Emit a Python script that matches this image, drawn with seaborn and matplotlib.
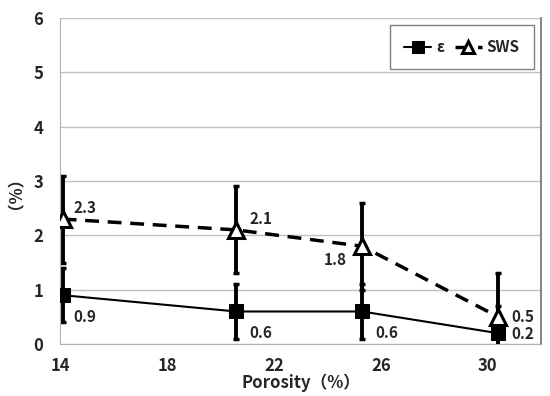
import numpy as np
import pandas as pd
import seaborn as sns
import matplotlib
matplotlib.use('Agg')
from matplotlib import pyplot as plt

# data
porosity = [14.1, 20.6, 25.3, 30.4]
eps_vals = [0.9, 0.6, 0.6, 0.2]
eps_err = [0.5, 0.5, 0.5, 0.5]
sws_vals = [2.3, 2.1, 1.8, 0.5]
sws_err = [0.8, 0.8, 0.8, 0.8]
eps_labels = ['0.9', '0.6', '0.6', '0.2']
sws_labels = ['2.3', '2.1', '1.8', '0.5']

FONTS = ['Noto Sans CJK SC', 'DejaVu Sans']

sns.set_style('white')
plt.rcParams['font.family'] = FONTS
plt.rcParams['font.weight'] = 'bold'

df = pd.DataFrame({'porosity': porosity, 'eps': eps_vals, 'sws': sws_vals})

fig = plt.figure(figsize=(5.5, 3.96), dpi=100)
ax = fig.add_axes([0.109, 0.131, 0.875, 0.824])

# error bars first so markers sit on top
ax.errorbar(porosity, sws_vals, yerr=sws_err, fmt='none', ecolor='black',
            elinewidth=2.8, capsize=2.5, capthick=2.5, zorder=2)
ax.errorbar(porosity, eps_vals, yerr=eps_err, fmt='none', ecolor='black',
            elinewidth=2.8, capsize=2.5, capthick=2.5, zorder=2)

sns.lineplot(data=df, x='porosity', y='eps', ax=ax, color='black', lw=1.5,
             marker='s', markersize=10, markerfacecolor='black',
             markeredgecolor='black', label='ε', zorder=3)
sns.lineplot(data=df, x='porosity', y='sws', ax=ax, color='black', lw=2.5,
             linestyle=(0, (4, 2.5)), marker='^', markersize=11,
             markerfacecolor='white', markeredgecolor='black',
             markeredgewidth=2.2, label='SWS', zorder=4)

# value labels
txt = dict(fontsize=11, fontweight='bold', fontfamily=FONTS)
sws_off = [(0.4, 0.2), (0.5, 0.2), (-1.45, -0.25), (0.5, 0.0)]
eps_off = [(0.4, -0.4), (0.5, -0.4), (0.5, -0.4), (0.5, -0.02)]
for x, y, s, (dx, dy) in zip(porosity, sws_vals, sws_labels, sws_off):
    ax.text(x + dx, y + dy, s, va='center', ha='left', **txt)
for x, y, s, (dx, dy) in zip(porosity, eps_vals, eps_labels, eps_off):
    ax.text(x + dx, y + dy, s, va='center', ha='left', **txt)

ax.set_xlim(14, 32)
ax.set_ylim(0, 6)
ax.set_xticks([14, 18, 22, 26, 30])
ax.set_yticks(range(0, 7))
ax.yaxis.grid(True, color='#c0c0c0', lw=1)
ax.tick_params(axis='y', labelsize=12, length=0, pad=12)
ax.tick_params(axis='x', labelsize=12, length=4, color='#a0a0a0',
               direction='out', pad=5)
for t in ax.get_xticklabels() + ax.get_yticklabels():
    t.set_fontweight('bold')

for side in ['left', 'bottom']:
    ax.spines[side].set_color('#b0b0b0')
ax.spines['top'].set_visible(False)
ax.spines['right'].set_color('#707070')
ax.spines['right'].set_linewidth(1.2)

ax.set_xlabel('Porosity（%）', fontsize=12, fontweight='bold', labelpad=-1)
ax.set_ylabel('（%）', fontsize=12, fontweight='bold')
ax.yaxis.set_label_coords(-0.09, 0.49)

leg = ax.legend(loc='upper right', ncol=2, frameon=True, fancybox=False,
                edgecolor='#606060', fontsize=11, handlelength=1.8,
                handletextpad=0.3, columnspacing=0.7, borderpad=0.9,
                markerscale=0.8, bbox_to_anchor=(1.0, 1.0))
leg.get_frame().set_linewidth(1.0)
for t in leg.get_texts():
    t.set_fontweight('bold')

fig.savefig('out.png', dpi=100)
